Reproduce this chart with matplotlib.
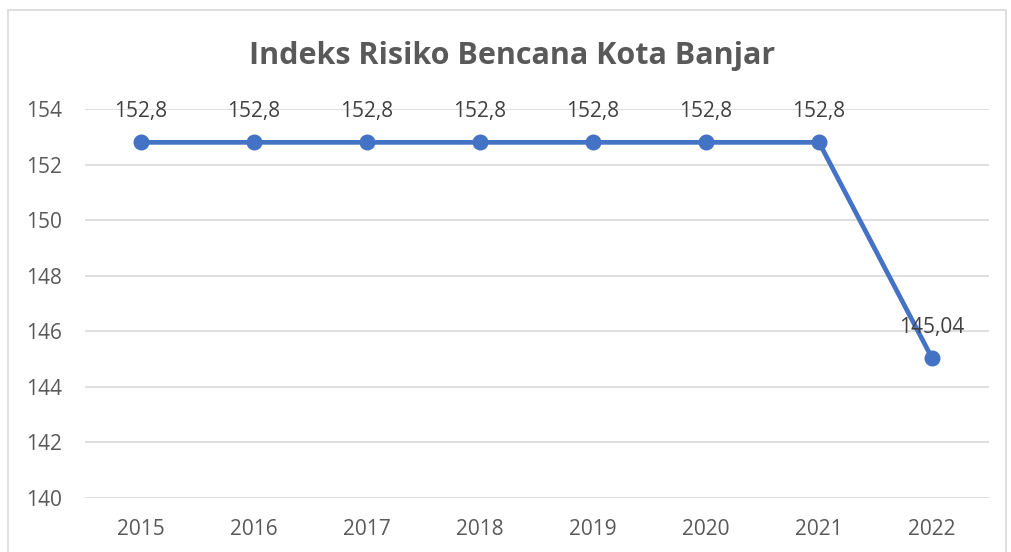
import matplotlib.pyplot as plt
from matplotlib.patches import Rectangle

# data
years = ["2015", "2016", "2017", "2018", "2019", "2020", "2021", "2022"]
indeks = [152.8, 152.8, 152.8, 152.8, 152.8, 152.8, 152.8, 145.04]
y_ticks = [140, 142, 144, 146, 148, 150, 152, 154]

text_col = "#595959"
line_col = "#4472C4"
grid_col = "#D9D9D9"

plt.rcParams['font.family'] = ['Open Sans', 'DejaVu Sans']

fig = plt.figure(figsize=(10.11, 5.52), dpi=100)
ax = fig.add_axes([84.5 / 1011, 1 - 498 / 552, (988.5 - 84.5) / 1011, (498 - 109) / 552])

x = list(range(len(years)))
ax.plot(x, indeks, color=line_col, linewidth=3.4, marker="o", markersize=10.5, zorder=3)

# data labels
for xi, v in zip(x, indeks):
    lbl = f"{v:g}".replace(".", ",")
    ax.annotate(lbl, (xi, v), xytext=(0, 22), textcoords="offset points",
                ha="center", va="center", fontsize=15, color="#404040", zorder=4)

ax.set_xlim(-0.5, len(years) - 0.5)
ax.set_ylim(140, 154)
ax.set_yticks(y_ticks)
ax.set_xticks(x)
ax.set_xticklabels(years)
ax.tick_params(axis="both", length=0, labelsize=15, labelcolor=text_col)
ax.tick_params(axis="x", pad=15)
ax.tick_params(axis="y", pad=16)
ax.grid(axis="y", color=grid_col, linewidth=1.2)
ax.set_axisbelow(True)
for s in ax.spines.values():
    s.set_visible(False)

fig.text(512 / 1011, 1 - 56 / 552, "Indeks Risiko Bencana Kota Banjar",
         ha="center", va="center", fontsize=22, fontweight="bold", color=text_col)

# chart border
fig.patches.append(Rectangle((8 / 1011, -0.05), (1006 - 8) / 1011, 1.05 - 10 / 552,
                             transform=fig.transFigure, fill=False,
                             edgecolor=grid_col, linewidth=1.2))

fig.savefig("out.png", dpi=100)
